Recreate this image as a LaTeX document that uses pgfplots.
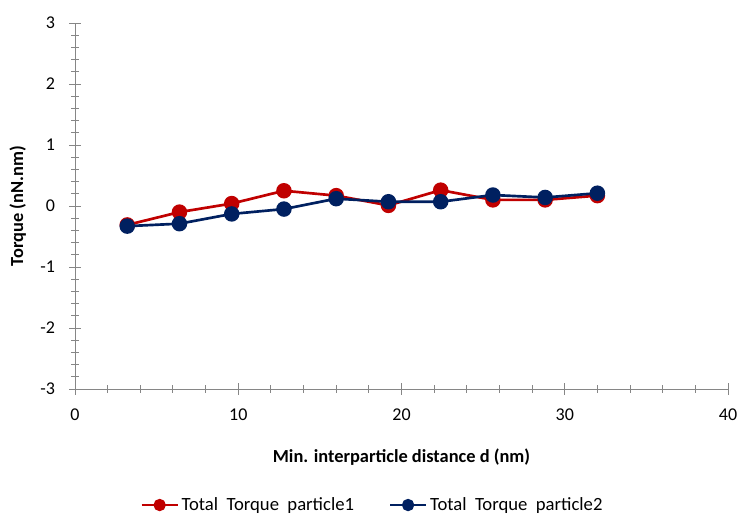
\documentclass[border=0pt]{standalone}
\usepackage{fontspec}
\setmainfont{Carlito}
\usepackage{pgfplots}
\pgfplotsset{compat=1.18}
\definecolor{redS}{RGB}{192,0,0}
\definecolor{blueS}{RGB}{0,32,96}
\definecolor{axgray}{RGB}{134,134,134}
\begin{document}
\fontsize{13.5pt}{16pt}\selectfont
\begin{tikzpicture}
\path[use as bounding box] (-56.25pt,-93.75pt) rectangle (498pt,291.75pt);
\begin{axis}[
  at={(0pt,0pt)}, anchor=south west,
  scale only axis, width=489.75pt, height=274.5pt,
  xmin=0, xmax=40, ymin=-3, ymax=3,
  axis x line=bottom, axis y line=left,
  axis line style={axgray, line width=0.75pt, -},
  xtick={0,10,...,40}, ytick={-3,-2,...,3},
  minor x tick num=4, minor y tick num=4,
  tick align=center,
  major tick length=8.5pt, minor tick length=5.5pt,
  tick style={axgray, line width=0.75pt},
  every tick label/.append style={font=\fontsize{13.5pt}{16pt}\selectfont, text=black},
  /pgf/number format/assume math mode=true,
  xticklabel style={yshift=-6pt},
  yticklabel style={xshift=-6pt},
  xlabel={\textbf{Min. interparticle distance d (nm)}},
  ylabel={\textbf{Torque (nN.nm)}},
  label style={font=\fontsize{13.8pt}{16pt}\selectfont},
  xlabel style={at={(axis description cs:0.5,0)}, anchor=center, yshift=-51pt},
  ylabel style={at={(axis description cs:0,0.5)}, anchor=center, rotate=0, yshift=43pt},
  legend columns=2,
  legend style={draw=none, at={(axis description cs:0.456,-0.317)}, anchor=center,
    font=\fontsize{14pt}{16pt}\selectfont,
    nodes={inner xsep=2pt},
    /tikz/every even column/.append style={column sep=24pt}},
  legend image code/.code={
    \draw[#1, mark size=3.6pt, mark repeat=2, mark phase=2] plot coordinates {(0pt,0pt) (13.5pt,0pt) (27pt,0pt)};},
  clip=false,
]
\addplot[redS, line width=2pt, mark=*, mark size=4.8pt, mark options={solid, fill=redS}]
coordinates {
(3.2,-0.31) (6.4,-0.10) (9.6,0.04) (12.8,0.25) (16,0.17)
(19.2,0.01) (22.4,0.26) (25.6,0.10) (28.8,0.10) (32,0.17)
};
\addlegendentry{Total\ \ Torque\ \ particle1}
\addplot[blueS, line width=2pt, mark=*, mark size=4.8pt, mark options={solid, fill=blueS}]
coordinates {
(3.2,-0.33) (6.4,-0.29) (9.6,-0.13) (12.8,-0.05) (16,0.12)
(19.2,0.07) (22.4,0.07) (25.6,0.18) (28.8,0.14) (32,0.21)
};
\addlegendentry{Total\ \ Torque\ \ particle2}
\end{axis}
\end{tikzpicture}
\end{document}
